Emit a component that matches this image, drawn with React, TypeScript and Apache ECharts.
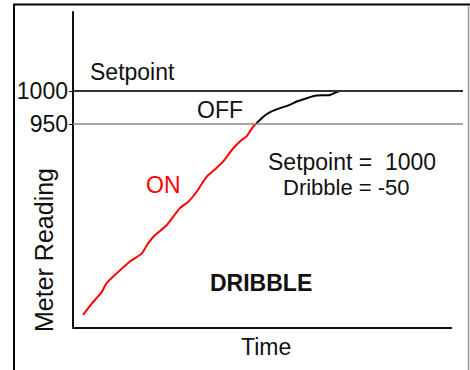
import React, { useEffect, useRef } from "react";
import * as echarts from "echarts";

const onCurve: [number, number][] = [
  [2.6, 660], [4.8, 677], [7.4, 695], [8.6, 708], [11.2, 723], [14.6, 741],
  [17.6, 753], [19.3, 769], [21.0, 781], [24.0, 796], [27.4, 822], [29.6, 832],
  [31.7, 847], [34.3, 870], [36.8, 883], [38.5, 893], [41.1, 913], [43.3, 926],
  [44.5, 931], [46.2, 946], [46.9, 950],
];
const offCurve: [number, number][] = [
  [46.9, 950], [48.8, 961], [50.9, 969], [53.1, 974], [55.6, 979], [57.4, 984],
  [59.9, 989], [62.5, 993], [65.9, 994], [68.5, 1000], [100, 1000],
];
const xAxisLine: [number, number][] = [[0, 640], [97.2, 640]];
const setpoint = 1000;
const dribblePoint = 950;
const yTicks = [950, 1000];

const FONT = "Liberation Sans, Arial, sans-serif";

export default function App() {
  const ref = useRef<HTMLDivElement>(null);
  useEffect(() => {
    if (!ref.current) return;
    const chart = echarts.init(ref.current, null, { renderer: "svg" });
    const txt = (t: string, x: number, y: number, extra: any = {}) => ({
      type: "text",
      x,
      y,
      style: {
        text: t,
        fontSize: 23,
        fontFamily: FONT,
        fill: "#111",
        align: "left",
        verticalAlign: "middle",
        ...(extra.style || {}),
      },
      ...(extra.el || {}),
    });
    chart.setOption({
      animation: false,
      backgroundColor: "#fff",
      grid: { left: 73, right: 7, top: 12, bottom: 42 },
      xAxis: {
        type: "value",
        min: 0,
        max: 100,
        axisLine: { show: false },
        axisTick: { show: false },
        axisLabel: { show: false },
        splitLine: { show: false },
      },
      yAxis: {
        type: "value",
        min: 640,
        max: 1120,
        axisLine: { show: true, lineStyle: { color: "#111", width: 2 } },
        axisTick: { show: true, length: 4, customValues: yTicks, lineStyle: { color: "#111", width: 1 } },
        axisLabel: {
          show: true,
          customValues: yTicks,
          formatter: (v: number) => String(v),
          fontSize: 23,
          fontFamily: FONT,
          color: "#111",
          margin: 5,
        },
        splitLine: { show: false },
      },
      series: [
        {
          type: "line",
          data: xAxisLine,
          symbol: "none",
          clip: false,
          lineStyle: { color: "#111", width: 2 },
          markLine: {
            symbol: "none",
            silent: true,
            label: { show: false },
            data: [
              { yAxis: setpoint, lineStyle: { color: "#333", width: 2, type: "solid" } },
              { yAxis: dribblePoint, lineStyle: { color: "#888", width: 1.5, type: "solid" } },
            ],
          },
        },
        {
          type: "line",
          data: offCurve,
          symbol: "none",
          smooth: 0.2,
          lineStyle: { color: "#000", width: 2 },
        },
        {
          type: "line",
          data: onCurve,
          symbol: "none",
          smooth: 0.2,
          lineStyle: { color: "#ff0000", width: 2 },
        },
      ],
      graphic: [
        { type: "line", shape: { x1: 13, y1: 4.5, x2: 470, y2: 4.5 }, style: { stroke: "#000", lineWidth: 2 } },
        { type: "line", shape: { x1: 14, y1: 4, x2: 14, y2: 370 }, style: { stroke: "#000", lineWidth: 2 } },
        { type: "line", shape: { x1: 468.5, y1: 5, x2: 468.5, y2: 370 }, style: { stroke: "#999", lineWidth: 1.5 } },
        txt("Setpoint", 90, 72),
        txt("OFF", 197, 110),
        txt("ON", 146, 185, { style: { fill: "#ff0000" } }),
        txt("Setpoint =  1000", 268, 162),
        txt("Dribble = -50", 283, 187, { style: { fontSize: 22 } }),
        txt("DRIBBLE", 210, 283, { style: { fontWeight: "bold" } }),
        txt("Time", 241, 347),
        txt("Meter Reading", 44, 250, {
          style: { align: "center", fontSize: 25 },
          el: { rotation: Math.PI / 2 },
        }),
      ],
    });
    return () => chart.dispose();
  }, []);
  return (
    <div
      ref={ref}
      style={{ position: "fixed", left: 0, top: 0, width: 470, height: 370, background: "#fff" }}
    />
  );
}
